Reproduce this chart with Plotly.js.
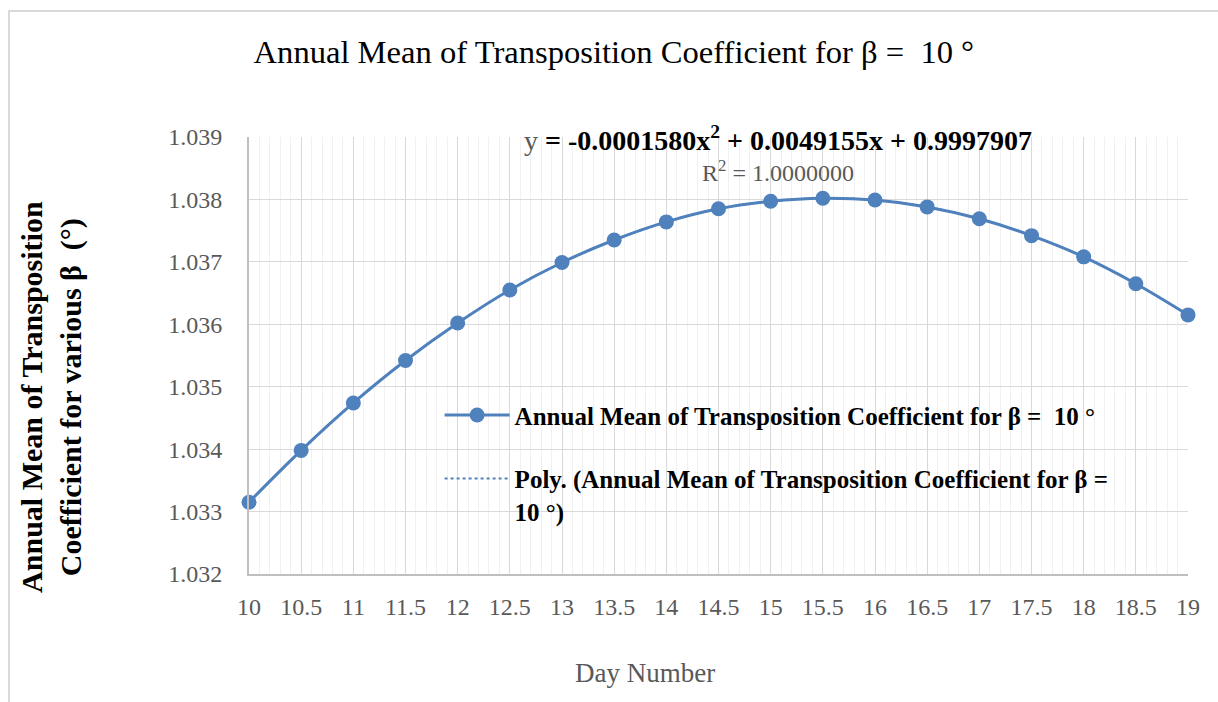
<!DOCTYPE html>
<html>
<head>
<meta charset="utf-8">
<script src="https://cdn.plot.ly/plotly-3.0.1.min.js"></script>
<style>
  html, body { margin: 0; padding: 0; background: #ffffff; }
  #frame { position: absolute; left: 8px; top: 10px; width: 1300px; height: 800px;
           border-left: 2px solid #d9d9d9; border-top: 2px solid #d9d9d9; }
  #chart { position: absolute; left: 0; top: 0; width: 1218px; height: 702px; }
</style>
</head>
<body>
<div id="frame"></div>
<div id="chart"></div>
<script>
// Day numbers (x) and annual mean transposition coefficient (y)
const dayNumber = [10, 10.5, 11, 11.5, 12, 12.5, 13, 13.5, 14, 14.5, 15, 15.5, 16, 16.5, 17, 17.5, 18, 18.5, 19];
const meanCoeff = [1.03315, 1.03398, 1.03474, 1.03542, 1.03602, 1.03655, 1.03699, 1.03735, 1.03764, 1.03785,
                   1.03797, 1.03802, 1.03799, 1.03788, 1.03769, 1.03742, 1.03708, 1.03665, 1.03615];
const xTickVals = [10, 10.5, 11, 11.5, 12, 12.5, 13, 13.5, 14, 14.5, 15, 15.5, 16, 16.5, 17, 17.5, 18, 18.5, 19];
const yTickVals = [1.032, 1.033, 1.034, 1.035, 1.036, 1.037, 1.038, 1.039];
const yTickText = ['1.032', '1.033', '1.034', '1.035', '1.036', '1.037', '1.038', '1.039'];

const seriesName = 'Annual Mean of Transposition Coefficient for \u03b2 =  10 \u00b0';
const trendName = 'Poly. (Annual Mean of Transposition Coefficient for \u03b2 =<br>10 \u00b0)';
const equationText = '<span style="color:#595959">y</span> <b>= -0.0001580x<sup>2</sup> + 0.0049155x + 0.9997907</b>';
const r2Text = 'R<sup>2</sup> = 1.0000000';

const serif = 'Liberation Serif, DejaVu Serif, serif';
const blue = '#4f81bd';

const traces = [
  {
    x: dayNumber, y: meanCoeff, type: 'scatter', mode: 'lines',
    name: trendName, legendgroup: 'b', legendrank: 2,
    line: { color: blue, width: 2, dash: 'dot', shape: 'spline' },
    cliponaxis: false, hoverinfo: 'skip'
  },
  {
    x: dayNumber, y: meanCoeff, type: 'scatter', mode: 'lines+markers',
    name: seriesName, legendgroup: 'a', legendrank: 1,
    line: { color: blue, width: 3, shape: 'spline' },
    marker: { color: blue, size: 15 },
    cliponaxis: false
  }
];

const layout = {
  width: 1218, height: 702,
  paper_bgcolor: 'rgba(0,0,0,0)', plot_bgcolor: 'rgba(0,0,0,0)',
  margin: { l: 249, r: 30, t: 137, b: 128 },
  font: { family: serif, color: '#595959' },
  title: {
    text: 'Annual Mean of Transposition Coefficient for \u03b2 =  10 \u00b0',
    font: { family: serif, size: 32.6, color: '#000000' },
    xref: 'container', x: 0.504, xanchor: 'center',
    yref: 'container', y: 0.926, yanchor: 'middle'
  },
  xaxis: {
    range: [10, 19], tickvals: xTickVals, ticktext: xTickVals.map(String),
    showgrid: true, gridcolor: '#d9d9d9', gridwidth: 1,
    minor: { dtick: 0.1, tick0: 10, showgrid: true, gridcolor: '#f0f0f0', gridwidth: 1 },
    showline: true, linecolor: '#bfbfbf', linewidth: 2,
    ticks: '', ticklabelstandoff: 10,
    tickfont: { family: serif, size: 24, color: '#595959' },
    zeroline: false
  },
  yaxis: {
    range: [1.032, 1.039], tickvals: yTickVals, ticktext: yTickText,
    showgrid: true, gridcolor: '#d9d9d9', gridwidth: 1,
    showline: true, linecolor: '#bfbfbf', linewidth: 2,
    ticks: '', ticklabelstandoff: 20,
    tickfont: { family: serif, size: 24, color: '#595959' },
    zeroline: false
  },
  legend: {
    x: 0.203, y: 0.416, xanchor: 'left', yanchor: 'top',
    bgcolor: 'rgba(0,0,0,0)',
    font: { family: serif, size: 25, color: '#000000', weight: 'bold' },
    traceorder: 'grouped', tracegroupgap: 28, itemwidth: 65, valign: 'top'
  },
  annotations: [
    { text: equationText, xref: 'paper', yref: 'paper', x: 0.563, y: 0.997,
      xanchor: 'center', yanchor: 'middle', showarrow: false,
      font: { family: serif, size: 28, color: '#000000' } },
    { text: r2Text, xref: 'paper', yref: 'paper', x: 0.563, y: 0.922,
      xanchor: 'center', yanchor: 'middle', showarrow: false,
      font: { family: serif, size: 24, color: '#595959' } },
    { text: '<b>Annual Mean of Transposition<br>Coefficient for various \u03b2  (\u00b0)</b>',
      xref: 'paper', yref: 'paper', x: -0.211, y: 0.405, textangle: -90,
      xanchor: 'center', yanchor: 'middle', showarrow: false,
      font: { family: serif, size: 30, color: '#000000' } },
    { text: 'Day Number', xref: 'paper', yref: 'paper', x: 0.4217, y: -0.2265,
      xanchor: 'center', yanchor: 'middle', showarrow: false,
      font: { family: serif, size: 27, color: '#595959' } }
  ],
  showlegend: true
};

Plotly.newPlot('chart', traces, layout, { displayModeBar: false, staticPlot: true });
</script>
</body>
</html>
